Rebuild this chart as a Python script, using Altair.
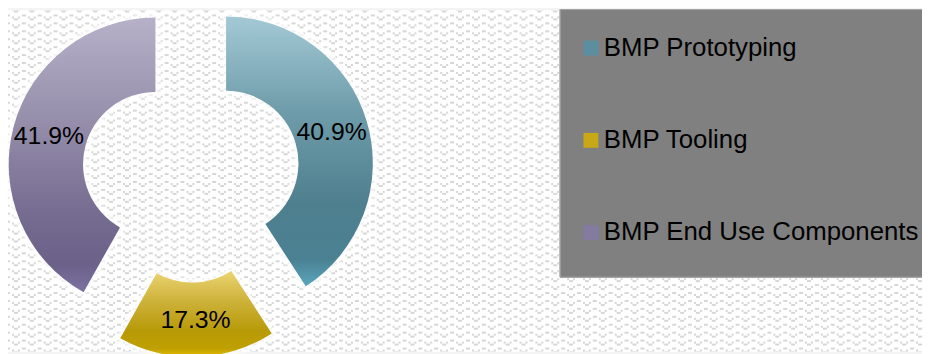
import altair as alt
import pandas as pd
from urllib.parse import quote

# ---- data ----
categories = ["BMP Prototyping", "BMP Tooling", "BMP End Use Components"]
shares = [40.9, 17.3, 41.9]
order = [0, 1, 2]

# ---- style ----
legend_colors = ["#5b8fa0", "#c8a816", "#857ba0"]
gradients = {
    "BMP Prototyping": ["#a3c9d5", "#6f9caa", "#4e7f8e", "#4a8193", "#5aa6bd"],
    "BMP Tooling": ["#ecd472", "#cdb23a", "#b89a08", "#bf9f00", "#e6bd00"],
    "BMP End Use Components": ["#b6b0c9", "#9891ad", "#776d92", "#6b6189", "#7d72a3"],
}
stop_offsets = [0.0, 0.35, 0.7, 0.9, 1.0]

CX, CY = 184.5, 165.5      # donut centre (px)
EXPLODE = 37               # explosion distance (px)
R_OUT, R_IN = 148, 73
LABEL_R = 111
FONT = "Liberation Sans"
W, H = 922, 346

# wave texture for the chart background
pattern_svg = (
    f"<svg xmlns='http://www.w3.org/2000/svg' width='{W}' height='{H}'>"
    "<defs><pattern id='w' width='16' height='8' patternUnits='userSpaceOnUse' x='8' y='3'>"
    "<rect width='16' height='8' fill='#ffffff'/>"
    "<g fill='#d6d6d6'>"
    "<rect x='6' y='2' width='4' height='2'/>"
    "<rect x='2' y='4' width='2' height='2'/>"
    "<rect x='12' y='4' width='2' height='2'/>"
    "<rect x='0' y='6' width='2' height='2'/>"
    "<rect x='14' y='6' width='2' height='2'/>"
    "</g></pattern></defs>"
    f"<rect width='{W}' height='{H}' fill='url(#w)'/></svg>"
)
pattern_url = "data:image/svg+xml;charset=utf-8," + quote(pattern_svg)

df = pd.DataFrame({"cat": categories, "share": shares, "ord": order})


def grad(stops):
    return {
        "gradient": "linear",
        "x1": 0, "y1": 0, "x2": 0, "y2": 1,
        "stops": [{"offset": o, "color": c} for o, c in zip(stop_offsets, stops)],
    }


conditions = [
    {"test": f"datum.cat === '{c}'", "value": grad(gradients[c])} for c in categories
]

base = (
    alt.Chart(df)
    .transform_joinaggregate(total="sum(share)")
    .transform_window(cum="sum(share)", sort=[alt.SortField("ord")], frame=[None, 0])
    .transform_calculate(
        a1="datum.cum / datum.total * 2 * PI",
        a0="(datum.cum - datum.share) / datum.total * 2 * PI",
    )
    .transform_calculate(m="(datum.a0 + datum.a1) / 2")
    .transform_calculate(
        px=f"{CX} + {EXPLODE} * sin(datum.m)",
        py=f"{CY} - {EXPLODE} * cos(datum.m)",
        lx=f"{CX} + {EXPLODE + LABEL_R} * sin(datum.m)",
        ly=f"{CY} - {EXPLODE + LABEL_R} * cos(datum.m)",
        label="format(datum.share, '.1f') + '%'",
    )
)

pos = dict(
    theta=alt.Theta("a0:Q", scale=None, stack=None),
    theta2="a1:Q",
    x=alt.X("px:Q", scale=None),
    y=alt.Y("py:Q", scale=None),
)

glow1 = base.mark_arc(
    outerRadius=R_OUT, innerRadius=R_IN, fillOpacity=0, stroke="white",
    strokeWidth=13, strokeOpacity=0.3, strokeJoin="round",
).encode(**pos)
glow2 = base.mark_arc(
    outerRadius=R_OUT, innerRadius=R_IN, fillOpacity=0, stroke="white",
    strokeWidth=7, strokeOpacity=0.5, strokeJoin="round",
).encode(**pos)

arcs = base.mark_arc(outerRadius=R_OUT, innerRadius=R_IN).encode(
    **pos,
    color=alt.Color(
        "cat:N",
        scale=alt.Scale(domain=categories, range=legend_colors),
        condition=conditions,
        legend=alt.Legend(
            title=None,
            orient="none",
            legendX=575,
            legendY=26,
            padding=0,
            symbolType="square",
            symbolSize=225,
            symbolStrokeWidth=0,
            symbolOpacity=1,
            labelFont=FONT,
            labelFontSize=26,
            labelColor="black",
            labelOffset=0,
            labelLimit=400,
            rowPadding=67,
        ),
    ),
)

labels = base.mark_text(
    font=FONT, fontSize=25, color="black", align="center", baseline="middle"
).encode(
    x=alt.X("lx:Q", scale=None),
    y=alt.Y("ly:Q", scale=None),
    text="label:N",
)

texture = alt.Chart(pd.DataFrame({"k": [0]})).mark_image(
    url=pattern_url, width=W, height=H, aspect=False, align="left", baseline="top"
).encode(x=alt.value(0), y=alt.value(0))

legend_box = alt.Chart(df).mark_rect(
    color="#808080", stroke="#a6a6a6", strokeWidth=1
).encode(
    x=alt.value(557), x2=alt.value(940), y=alt.value(0), y2=alt.value(270)
)

chart = (
    alt.layer(texture, legend_box, glow1, glow2, arcs, labels)
    .properties(width=W, height=H, padding=0, autosize="none", background="#f4f4f4")
    .configure_view(strokeWidth=0)
)

chart.save("out.html", embed_options={"renderer": "svg", "actions": False})
